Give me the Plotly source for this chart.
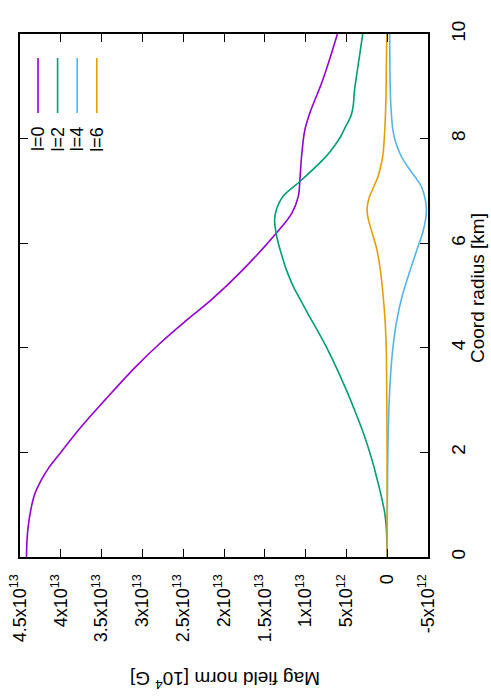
import plotly.graph_objects as go

# radius [km] and field norm [1e4 G]
r_l0 = [0, 0.3, 0.58, 0.96, 1.2, 1.47, 1.7, 1.98, 2.49, 3.0, 3.64, 4.12, 4.54, 4.91, 5.49,
        6.19, 6.57, 6.89, 7.21, 7.65, 8.16, 8.48, 9.12, 10]
b_l0 = [4.42e13, 4.415e13, 4.40e13, 4.36e13, 4.32e13, 4.24e13, 4.15e13, 4.01e13, 3.75e13,
        3.46e13, 3.08e13, 2.76e13, 2.45e13, 2.16e13, 1.77e13, 1.36e13, 1.17e13, 1.09e13,
        1.07e13, 1.05e13, 1.01e13, 0.95e13, 0.79e13, 0.61e13]

r_l2 = [0, 0.52, 0.84, 1.28, 1.54, 1.79, 2.30, 2.75, 3.19, 3.89, 4.40, 4.59, 4.98, 5.17,
        5.49, 5.81, 6.10, 6.44, 6.63, 6.89, 7.18, 7.56, 7.75, 8.04, 8.23, 8.36, 8.48, 8.65,
        8.93, 9.57, 10]
b_l2 = [0, 0.1e12, 0.3e12, 0.9e12, 1.32e12, 1.74e12, 2.76e12, 3.85e12, 5.0e12, 7.05e12,
        8.8e12, 9.5e12, 10.85e12, 11.5e12, 12.35e12, 13.0e12, 13.5e12, 13.8e12, 13.6e12,
        12.8e12, 10.7e12, 8.1e12, 7.0e12, 5.7e12, 5.1e12, 4.65e12, 4.35e12, 4.15e12,
        4.0e12, 3.4e12, 3.0e12]

r_l4 = [0, 1, 2, 3, 3.5, 4, 4.5, 5, 5.5, 5.9, 6.2, 6.45, 6.65, 6.85, 7.08, 7.25, 7.4, 7.56,
        7.72, 7.95, 8.16, 8.5, 8.8, 9.4, 10]
b_l4 = [0, -0.02e12, -0.08e12, -0.25e12, -0.42e12, -0.7e12, -1.15e12, -1.85e12, -2.85e12,
        -3.7e12, -4.35e12, -4.7e12, -4.8e12, -4.65e12, -4.2e12, -3.5e12, -2.8e12, -2.1e12,
        -1.55e12, -1.0e12, -0.7e12, -0.5e12, -0.4e12, -0.33e12, -0.3e12]

r_l6 = [0, 1, 2, 3, 4, 4.5, 5.0, 5.5, 5.9, 6.2, 6.45, 6.65, 6.85, 7.08, 7.27, 7.5, 7.72,
        8.16, 8.8, 9.44, 10]
b_l6 = [0, 0, 0.02e12, 0.05e12, 0.12e12, 0.25e12, 0.5e12, 0.85e12, 1.3e12, 1.85e12, 2.3e12,
        2.47e12, 2.25e12, 1.65e12, 1.13e12, 0.75e12, 0.5e12, 0.3e12, 0.15e12, 0.1e12, 0.05e12]

names = ["l=0", "l=2", "l=4", "l=6"]
colors = ["#9400d3", "#009e73", "#56b4e9", "#e69f00"]

b_ticks = [4.5e13, 4e13, 3.5e13, 3e13, 2.5e13, 2e13, 1.5e13, 1e13, 5e12, 0, -5e12]
b_ticktext = ["4.5x10<sup>13</sup>", "4x10<sup>13</sup>", "3.5x10<sup>13</sup>",
              "3x10<sup>13</sup>", "2.5x10<sup>13</sup>", "2x10<sup>13</sup>",
              "1.5x10<sup>13</sup>", "1x10<sup>13</sup>", "5x10<sup>12</sup>", "0",
              "-5x10<sup>12</sup>"]
r_ticks = [0, 2, 4, 6, 8, 10]

FONT = "Liberation Sans, Arial, sans-serif"
L, R, T, B = 20, 428, 34, 557


def px(x):
    return (x - L) / (R - L)


def py(y):
    return (B - y) / (B - T)


fig = go.Figure()
for rr, bb, name, col in zip([r_l0, r_l2, r_l4, r_l6], [b_l0, b_l2, b_l4, b_l6], names, colors):
    fig.add_trace(go.Scatter(x=bb, y=rr, mode="lines", name=name,
                             line=dict(color=col, width=1.6, shape="spline", smoothing=1.0)))

# rotated legend, drawn by hand
shapes = []
annotations = []
for i, (name, col) in enumerate(zip(names, colors)):
    xp = px(38 + i * 19.6)
    shapes.append(dict(type="line", xref="paper", yref="paper", x0=xp, x1=xp,
                       y0=py(58), y1=py(113), line=dict(color=col, width=1.6)))
    annotations.append(dict(text=name, xref="paper", yref="paper", x=xp, y=py(139),
                            showarrow=False, textangle=-90, font=dict(size=18, color="black", family=FONT),
                            xanchor="center", yanchor="middle"))

annotations.append(dict(text="Coord radius [km]", xref="paper", yref="paper", x=px(477), y=py(288),
                        showarrow=False, textangle=-90, font=dict(size=19, color="black", family=FONT),
                        xanchor="center", yanchor="middle"))
annotations.append(dict(text="Mag field norm [10<sup>4</sup> G]", xref="paper", yref="paper",
                        x=px(225), y=py(680), showarrow=False, textangle=180,
                        font=dict(size=19, color="black", family=FONT),
                        xanchor="center", yanchor="middle"))

fig.update_layout(
    width=491, height=700,
    margin=dict(l=L, r=491 - R, t=T, b=700 - B, autoexpand=False),
    plot_bgcolor="white", paper_bgcolor="white",
    showlegend=False,
    font=dict(family=FONT, size=19, color="black"),
    shapes=shapes, annotations=annotations,
)
fig.update_xaxes(range=[4.5e13, -5e12], tickvals=b_ticks, ticktext=b_ticktext, tickangle=-90,
                 ticks="inside", ticklen=8, tickcolor="black", showgrid=False, zeroline=False,
                 showline=True, linecolor="black", linewidth=2, mirror="allticks",
                 ticklabelstandoff=8, automargin=False, tickfont=dict(size=18))
fig.update_yaxes(range=[0, 10], tickvals=r_ticks, side="right", tickangle=-90,
                 ticks="inside", ticklen=8, tickcolor="black", showgrid=False, zeroline=False,
                 showline=True, linecolor="black", linewidth=2, mirror="allticks",
                 ticklabelstandoff=12, automargin=False, tickfont=dict(size=19))

# the page's default body margin would push the figure off by 8px
fig.write_html("out.html", config={"displayModeBar": False},
               post_script="document.body.style.margin='0';")
